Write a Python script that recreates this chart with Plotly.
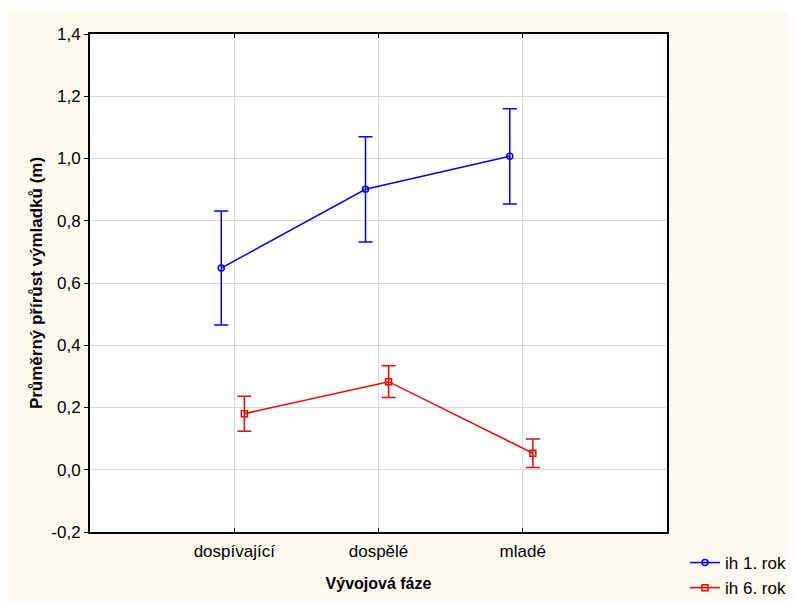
import plotly.graph_objects as go

categories = ["dospívající", "dospělé", "mladé"]
series_names = ["ih 1. rok", "ih 6. rok"]
rok1_mean = [0.648, 0.901, 1.007]
rok1_err = [0.183, 0.169, 0.153]
rok6_mean = [0.180, 0.283, 0.053]
rok6_err = [0.056, 0.051, 0.046]
y_ticks = [-0.2, 0.0, 0.2, 0.4, 0.6, 0.8, 1.0, 1.2, 1.4]
y_tick_labels = ["-0,2", "0,0", "0,2", "0,4", "0,6", "0,8", "1,0", "1,2", "1,4"]

BG = "#fef9ef"
FONT = "Liberation Sans, Arial, sans-serif"

idx = list(range(len(categories)))
dodge = {"blue": -0.09, "red": 0.07}

fig = go.Figure()
fig.add_trace(go.Scatter(
    x=[i + dodge["blue"] for i in idx], y=rok1_mean, name=series_names[0],
    mode="lines+markers",
    line=dict(color="#0000ff", width=1.5),
    marker=dict(symbol="circle-open", size=6, color="#0000ff", line=dict(width=1.5)),
    error_y=dict(type="data", array=rok1_err, visible=True, color="#0000ff", thickness=1.5, width=7),
))
fig.add_trace(go.Scatter(
    x=[i + dodge["red"] for i in idx], y=rok6_mean, name=series_names[1],
    mode="lines+markers",
    line=dict(color="#ff0000", width=1.5),
    marker=dict(symbol="square-open", size=6, color="#ff0000", line=dict(width=1.5)),
    error_y=dict(type="data", array=rok6_err, visible=True, color="#ff0000", thickness=1.5, width=7),
))

W, H = 787, 593
L, R, T, B = 82, 128, 26, 69
pw, ph = W - L - R, H - T - B

shapes = [
    # white strip above the cream panel
    dict(type="rect", xref="paper", yref="paper", x0=-L / pw - 0.02, x1=1 + R / pw + 0.02,
         y0=1 + (T - 5) / ph, y1=1 + T / ph + 0.02, fillcolor="white", line=dict(width=0), layer="below"),
]

fig.update_layout(
    width=W, height=H,
    margin=dict(l=L, r=R, t=T, b=B, autoexpand=False),
    paper_bgcolor=BG, plot_bgcolor="white",
    font=dict(family=FONT, size=17, color="black"),
    showlegend=True,
    legend=dict(x=(677 - L) / pw, y=1 - (537 - T) / ph, xanchor="left", yanchor="top",
                bgcolor="rgba(0,0,0,0)", font=dict(size=17), tracegroupgap=0, itemwidth=30),
    shapes=shapes,
    xaxis=dict(
        tickmode="array", tickvals=idx, ticktext=categories,
        range=[-1, 3], showgrid=True, gridcolor="#d9d9d9", gridwidth=1,
        zeroline=False, showline=True, linecolor="black", linewidth=2, mirror="ticks",
        ticks="inside", ticklen=4, tickcolor="black", ticklabelstandoff=3,
        title=dict(text="<b>Vývojová fáze</b>", font=dict(size=16), standoff=17),
    ),
    yaxis=dict(
        tickmode="array", tickvals=y_ticks, ticktext=y_tick_labels,
        range=[-0.2, 1.4], showgrid=True, gridcolor="#d9d9d9", gridwidth=1,
        zeroline=False, showline=True, linecolor="black", linewidth=2, mirror=True,
        ticks="outside", ticklen=4, tickcolor="black",
        title=dict(text="<b>Průměrný přírůst výmladků (m)</b>", font=dict(size=17), standoff=4),
    ),
)

fig.write_html("out.html")
